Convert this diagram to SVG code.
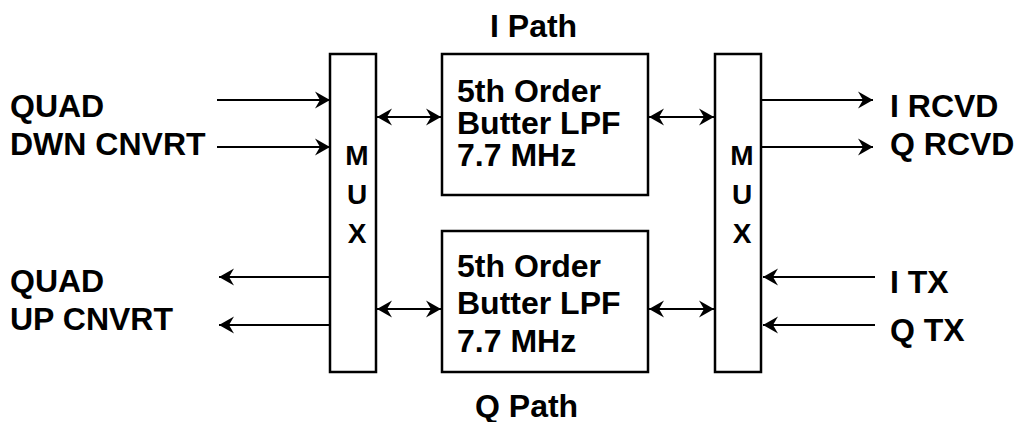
<svg xmlns="http://www.w3.org/2000/svg" width="1016" height="422" viewBox="0 0 1016 422">
<style>
.t{font-family:"Liberation Sans",Arial,sans-serif;font-weight:bold;font-size:32px;fill:#000}
.m{font-family:"Liberation Sans",Arial,sans-serif;font-weight:bold;font-size:28px;fill:#000;text-anchor:middle}
.box{fill:#fff;stroke:#000;stroke-width:2.5}
.ln{stroke:#000;stroke-width:2;fill:none}
.a1{marker-end:url(#ah)}
.a2{marker-start:url(#ah);marker-end:url(#ah)}
</style>
<defs>
<marker id="ah" markerUnits="userSpaceOnUse" markerWidth="20" markerHeight="20" refX="16" refY="9" orient="auto-start-reverse">
<path d="M16,9 L1,0.5 L6,9 L1,17.5 Z" fill="#000"/>
</marker>
</defs>
<rect width="1016" height="422" fill="#fff"/>
<g id="connectors">
<line class="ln a1" x1="217" y1="100" x2="330" y2="100"/>
<line class="ln a1" x1="217" y1="147" x2="330" y2="147"/>
<line class="ln a1" x1="330" y1="277" x2="219" y2="277"/>
<line class="ln a1" x1="330" y1="325" x2="219" y2="325"/>
<line class="ln a2" x1="377" y1="117" x2="441" y2="117"/>
<line class="ln a2" x1="377" y1="309" x2="441" y2="309"/>
<line class="ln a2" x1="649" y1="117" x2="714" y2="117"/>
<line class="ln a2" x1="649" y1="309" x2="714" y2="309"/>
<line class="ln a1" x1="761" y1="100" x2="873" y2="100"/>
<line class="ln a1" x1="761" y1="147" x2="873" y2="147"/>
<line class="ln a1" x1="875" y1="277" x2="763" y2="277"/>
<line class="ln a1" x1="875" y1="325" x2="763" y2="325"/>
</g>
<g id="mux-left">
<rect class="box" x="330" y="54" width="46" height="318"/>
<text class="m" x="357" y="165">M</text>
<text class="m" x="357" y="204">U</text>
<text class="m" x="357" y="243">X</text>
</g>
<g id="mux-right">
<rect class="box" x="715" y="54" width="46" height="318"/>
<text class="m" x="742" y="165">M</text>
<text class="m" x="742" y="204">U</text>
<text class="m" x="742" y="243">X</text>
</g>
<g id="lpf-i">
<rect class="box" x="442" y="54" width="206" height="141"/>
<text class="t" x="457" y="102">5th Order</text>
<text class="t" x="457" y="134">Butter LPF</text>
<text class="t" x="457" y="166">7.7 MHz</text>
</g>
<g id="lpf-q">
<rect class="box" x="442" y="231" width="206" height="141"/>
<text class="t" x="457" y="277">5th Order</text>
<text class="t" x="457" y="314">Butter LPF</text>
<text class="t" x="457" y="352">7.7 MHz</text>
</g>
<g id="label-i-path"><text class="t" x="490" y="37">I Path</text></g>
<g id="label-q-path"><text class="t" x="475" y="417">Q Path</text></g>
<g id="label-down"><text class="t" x="10" y="117">QUAD</text><text class="t" x="10" y="155">DWN CNVRT</text></g>
<g id="label-up"><text class="t" x="10" y="292">QUAD</text><text class="t" x="10" y="330">UP CNVRT</text></g>
<g id="label-rcvd"><text class="t" x="890" y="117">I RCVD</text><text class="t" x="890" y="155">Q RCVD</text></g>
<g id="label-tx"><text class="t" x="890" y="293">I TX</text><text class="t" x="890" y="341">Q TX</text></g>
</svg>
